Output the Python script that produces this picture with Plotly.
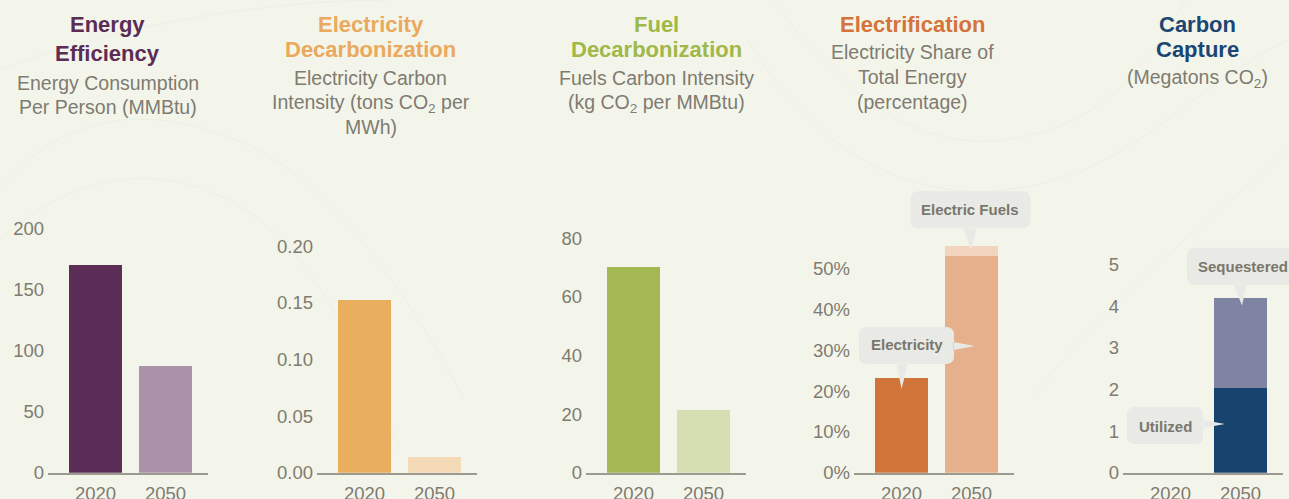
import plotly.graph_objects as go

# ---------------- data ----------------
years = ["2020", "2050"]

energy_per_person = [170, 87]            # MMBtu per person
electricity_carbon_intensity = [0.152, 0.014]   # tons CO2 per MWh
fuels_carbon_intensity = [70.2, 21.4]    # kg CO2 per MMBtu
electricity_share = [23.2, 53.1]         # % of total energy
electric_fuels_share = [None, 2.4]       # % of total energy
co2_utilized = [None, 2.04]              # Megatons CO2
co2_sequestered = [None, 2.17]           # Megatons CO2

ticks_energy = [0, 50, 100, 150, 200]
ticks_elec_ci = [0, 0.05, 0.10, 0.15, 0.20]
ticks_fuel_ci = [0, 20, 40, 60, 80]
ticks_share = [0, 10, 20, 30, 40, 50]
ticks_ccs = [0, 1, 2, 3, 4, 5]

panel_titles = [["Energy", "Efficiency"], ["Electricity", "Decarbonization"],
                ["Fuel", "Decarbonization"], ["Electrification"], ["Carbon", "Capture"]]
panel_subtitles = [["Energy Consumption", "Per Person (MMBtu)"],
                   ["Electricity Carbon", "Intensity (tons CO<sub>2</sub> per", "MWh)"],
                   ["Fuels Carbon Intensity", "(kg CO<sub>2</sub> per MMBtu)"],
                   ["Electricity Share of", "Total Energy", "(percentage)"],
                   ["(Megatons CO<sub>2</sub>)"]]

# ---------------- style / layout ----------------
W, H = 1289, 499
FONT = "Liberation Sans, Arial, Helvetica, sans-serif"
GRAY = "#7e7b71"
AXIS_GRAY = "#9d9b91"
BG = "#f4f5ea"
CALLOUT_BG = "#e9e9e5"
CALLOUT_TXT = "#7a776d"

title_colors = ["#5b2c56", "#eaa95c", "#9fb848", "#d4733a", "#1b4672"]
title_cx = [107.5, 370.8, 656.5, 912.5, 1197]
title_cy = [[24.5, 53], [24.8, 49.2], [24.5, 49.2], [24.5], [24.5, 49.2]]
sub_cy = [[82.7, 106.7], [78.3, 103.3, 126.7], [78.3, 103.3], [52, 77.3, 101.5], [78.3]]

panel_left = [48, 317, 586, 854, 1123]
panel_w = 160
baseline = 472.7
px_per_unit = [1.222, 1133.0, 2.93, 4.08, 41.6]
y_max = [205, 0.205, 82, 72, 5.9]
x_range = [-0.679, 1.607]
bar_w = 0.757

fig = go.Figure()

def ax(i):
    return "" if i == 0 else str(i + 1)

# Panel 1
fig.add_bar(x=years, y=energy_per_person, marker_color=["#5c2d57", "#aa93a8"],
            width=bar_w, xaxis="x", yaxis="y", name="Energy")
# Panel 2
fig.add_bar(x=years, y=electricity_carbon_intensity, marker_color=["#eaae5f", "#f5dab7"],
            width=bar_w, xaxis="x2", yaxis="y2", name="Elec CI")
# Panel 3
fig.add_bar(x=years, y=fuels_carbon_intensity, marker_color=["#a3b752", "#d6dfb2"],
            width=bar_w, xaxis="x3", yaxis="y3", name="Fuel CI")
# Panel 4 (stacked)
fig.add_bar(x=years, y=electricity_share, marker_color=["#d0743a", "#e5b08b"],
            width=bar_w, xaxis="x4", yaxis="y4", name="Electricity")
fig.add_bar(x=years, y=electric_fuels_share, marker_color="#f3d4bd",
            width=bar_w, xaxis="x4", yaxis="y4", name="Electric Fuels")
# Panel 5 (stacked)
fig.add_bar(x=years, y=co2_utilized, marker_color="#16446f",
            width=bar_w, xaxis="x5", yaxis="y5", name="Utilized")
fig.add_bar(x=years, y=co2_sequestered, marker_color="#8084a3",
            width=bar_w, xaxis="x5", yaxis="y5", name="Sequestered")

fig.update_traces(marker_line_width=0, hoverinfo="skip")

tick_sets = [ticks_energy, ticks_elec_ci, ticks_fuel_ci, ticks_share, ticks_ccs]
tick_text = [[str(v) for v in ticks_energy],
             ["%.2f" % v for v in ticks_elec_ci],
             [str(v) for v in ticks_fuel_ci],
             ["%d%%" % v for v in ticks_share],
             [str(v) for v in ticks_ccs]]

layout_axes = {}
for i in range(5):
    x0 = panel_left[i] / W
    x1 = (panel_left[i] + panel_w) / W
    yb = (H - baseline) / H
    yt = (H - (baseline - y_max[i] * px_per_unit[i])) / H
    layout_axes["xaxis" + ax(i)] = dict(
        domain=[x0, x1], anchor="y" + ax(i), type="category", range=x_range,
        showline=True, linecolor=AXIS_GRAY, linewidth=2, showgrid=False, zeroline=False,
        ticks="", tickfont=dict(family=FONT, size=18.5, color=GRAY), fixedrange=True,
        ticklabelstandoff=3, automargin=False,
    )
    layout_axes["yaxis" + ax(i)] = dict(
        domain=[yb, yt], anchor="x" + ax(i), range=[0, y_max[i]],
        showline=False, showgrid=False, zeroline=False, ticks="",
        tickmode="array", tickvals=tick_sets[i], ticktext=tick_text[i],
        tickfont=dict(family=FONT, size=18.5, color=GRAY), fixedrange=True,
        ticklabelstandoff=3, automargin=False,
    )

annotations = []
for i in range(5):
    for line, cy in zip(panel_titles[i], title_cy[i]):
        annotations.append(dict(
            text="<b>%s</b>" % line, x=title_cx[i] / W, y=1 - cy / H, xref="paper", yref="paper",
            xanchor="center", yanchor="middle", showarrow=False,
            font=dict(family=FONT, size=22, color=title_colors[i])))
    for line, cy in zip(panel_subtitles[i], sub_cy[i]):
        annotations.append(dict(
            text=line, x=title_cx[i] / W, y=1 - cy / H, xref="paper", yref="paper",
            xanchor="center", yanchor="middle", showarrow=False,
            font=dict(family=FONT, size=19.5, color=GRAY)))

# ---------------- callouts ----------------
def rounded_box(x0, x1, y0, y1, r=8):
    return ("M %g,%g L %g,%g Q %g,%g %g,%g L %g,%g Q %g,%g %g,%g L %g,%g Q %g,%g %g,%g "
            "L %g,%g Q %g,%g %g,%g Z" % (
                x0 + r, y0, x1 - r, y0, x1, y0, x1, y0 + r,
                x1, y1 - r, x1, y1, x1 - r, y1,
                x0 + r, y1, x0, y1, x0, y1 - r,
                x0, y0 + r, x0, y0, x0 + r, y0))

def tri(p1, p2, tip):
    return " M %g,%g L %g,%g L %g,%g Z" % (p1[0], p1[1], tip[0], tip[1], p2[0], p2[1])

shapes = []
callouts = [
    dict(panel=3, cat="2050", val=electricity_share[1] + electric_fuels_share[1],
         box=(-61, 59, 18, 55), ptrs=[((-8.5, 18.5), (5.5, 18.5), (-0.5, -4))],
         text="Electric Fuels", shift=(-1.5, 36.8)),
    dict(panel=3, cat="2020", val=electricity_share[0],
         box=(-42.5, 52.5, 14, 51),
         ptrs=[((-5, 14.5), (6.5, 14.5), (0, -11)), ((52, 36), (52, 28), (73.5, 32))],
         text="Electricity", shift=(5.2, 34)),
    dict(panel=4, cat="2050", val=co2_utilized[1] + co2_sequestered[1],
         box=(-53.5, 58.5, 12.75, 49.75), ptrs=[((-7, 13.25), (6, 13.25), (1.5, -8))],
         text="Sequestered", shift=(2.5, 31.25)),
    dict(panel=4, cat="2050", val=co2_utilized[1],
         box=(-113.5, -37.5, -56.2, -19.2), ptrs=[((-38, -32.2), (-38, -40.2), (-15.5, -36.2))],
         text="Utilized", shift=(-75.5, -38.2)),
]
for c in callouts:
    p = c["panel"]
    xi = years.index(c["cat"])   # category serial number on the category axis
    # anchor in axis-domain fractions (derived from the data value) so the bubble is not clipped
    x_frac = (xi - x_range[0]) / (x_range[1] - x_range[0])
    y_frac = c["val"] / y_max[p]
    bx0, bx1, by0, by1 = c["box"]
    path = rounded_box(bx0, bx1, by0, by1)
    for p1, p2, tip in c["ptrs"]:
        path += tri(p1, p2, tip)
    shapes.append(dict(type="path", path=path,
                       xref="x%s domain" % ax(p), yref="y%s domain" % ax(p),
                       xsizemode="pixel", ysizemode="pixel", xanchor=x_frac, yanchor=y_frac,
                       fillcolor=CALLOUT_BG, line=dict(width=0), layer="above"))
    annotations.append(dict(text="<b>%s</b>" % c["text"], x=xi, y=c["val"],
                            xref="x" + ax(p), yref="y" + ax(p),
                            xshift=c["shift"][0], yshift=c["shift"][1],
                            xanchor="center", yanchor="middle", showarrow=False,
                            font=dict(family=FONT, size=15, color=CALLOUT_TXT)))

# ---------------- faint decorative background contours ----------------
bg_curves = [
    "M 0,0.62 C 0.05,0.78 0.12,0.80 0.20,0.70 C 0.26,0.62 0.32,0.40 0.36,0.20",
    "M 0,0.52 C 0.06,0.66 0.13,0.68 0.19,0.58 C 0.24,0.50 0.28,0.30 0.31,0.10",
    "M 0.60,1.0 C 0.66,0.78 0.72,0.70 0.78,0.72 C 0.84,0.74 0.88,0.82 0.92,1.0",
    "M 0.58,0.92 C 0.64,0.66 0.72,0.60 0.78,0.62 C 0.86,0.64 0.90,0.76 0.96,0.86 C 0.98,0.9 1.0,0.92 1.0,0.92",
    "M 0.80,0.20 C 0.86,0.40 0.92,0.52 1.0,0.70",
    "M 0,0.86 C 0.10,0.96 0.22,1.0 0.30,1.0",
]
for pth in bg_curves:
    shapes.append(dict(type="path", path=pth, xref="paper", yref="paper",
                       line=dict(color="rgba(228,231,216,0.4)", width=1), layer="below"))

fig.update_layout(
    width=W, height=H, autosize=False,
    margin=dict(l=0, r=0, t=0, b=0, pad=0, autoexpand=False),
    paper_bgcolor=BG, plot_bgcolor="rgba(0,0,0,0)",
    barmode="stack", showlegend=False, bargap=0,
    font=dict(family=FONT, color=GRAY),
    annotations=annotations, shapes=shapes,
    **layout_axes,
)

fig.write_html("out.html", config={"displayModeBar": False, "staticPlot": True, "responsive": False},
               post_script="document.body.style.margin='0';document.body.style.overflow='hidden';"
                           "document.body.style.background='%s';" % BG)
